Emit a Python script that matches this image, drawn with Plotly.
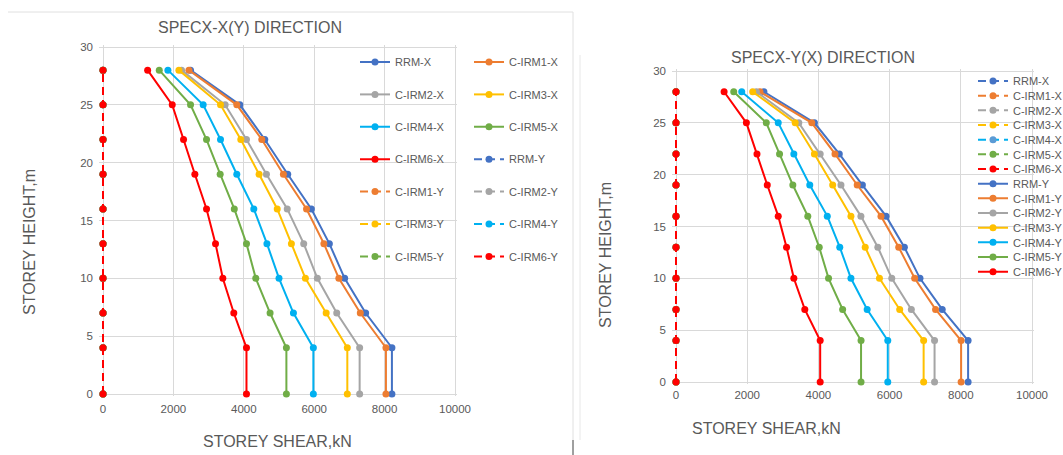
import plotly.graph_objects as go

# ---------------- data ----------------
heights = [0, 4, 7, 10, 13, 16, 19, 22, 25, 28]

models = ["RRM", "C-IRM1", "C-IRM2", "C-IRM3", "C-IRM4", "C-IRM5", "C-IRM6"]
colors = ["#4472C4", "#ED7D31", "#A5A5A5", "#FFC000", "#00B0F0", "#70AD47", "#FF0000"]

# Left chart: SPECX-X(Y) direction, X-direction shear (kN), bottom to top
left_rrm_x = [8208, 8208, 7461, 6865, 6430, 5920, 5248, 4596, 3887, 2487]
left_cirm1_x = [8038, 8038, 7310, 6700, 6275, 5782, 5125, 4511, 3801, 2440]
left_cirm2_x = [7291, 7291, 6640, 6090, 5702, 5234, 4643, 4076, 3470, 2232]
left_cirm3_x = [6941, 6941, 6340, 5750, 5352, 4950, 4435, 3915, 3338, 2156]
left_cirm4_x = [5976, 5976, 5410, 5000, 4657, 4284, 3801, 3338, 2846, 1844]
left_cirm5_x = [5210, 5210, 4747, 4340, 4076, 3730, 3329, 2941, 2487, 1598]
left_cirm6_x = [4076, 4076, 3716, 3404, 3196, 2941, 2610, 2288, 1967, 1268]
# Left chart Y-direction shear (all zero)
left_y_zero = [0, 0, 0, 0, 0, 0, 0, 0, 0, 0]

# Right chart: SPECX-Y(X) direction, Y-direction shear (kN)
right_rrm_y = [8205, 8205, 7478, 6853, 6415, 5900, 5236, 4587, 3888, 2470]
right_cirm1_y = [8009, 8009, 7291, 6704, 6256, 5758, 5090, 4466, 3814, 2358]
right_cirm2_y = [7263, 7263, 6611, 6061, 5669, 5194, 4634, 4050, 3450, 2257]
right_cirm3_y = [6956, 6956, 6284, 5715, 5315, 4914, 4401, 3888, 3348, 2154]
right_cirm4_y = [5949, 5949, 5370, 4914, 4600, 4250, 3758, 3310, 2872, 1846]
right_cirm5_y = [5198, 5198, 4681, 4285, 4023, 3702, 3282, 2909, 2536, 1622]
right_cirm6_y = [4050, 4050, 3618, 3310, 3105, 2872, 2564, 2275, 1977, 1351]
# Right chart X-direction shear (all zero)
right_x_zero = [0, 0, 0, 0, 0, 0, 0, 0, 0, 0]

left_x_series = [left_rrm_x, left_cirm1_x, left_cirm2_x, left_cirm3_x,
                 left_cirm4_x, left_cirm5_x, left_cirm6_x]
right_y_series = [right_rrm_y, right_cirm1_y, right_cirm2_y, right_cirm3_y,
                  right_cirm4_y, right_cirm5_y, right_cirm6_y]

x_ticks = [0, 2000, 4000, 6000, 8000, 10000]
x_tick_labels = ["0", "2000", "4000", "6000", "8000", "10000"]
y_ticks = [0, 5, 10, 15, 20, 25, 30]

# ---------------- layout constants ----------------
W, H = 1063, 455
FONT = "Liberation Sans"
TXT = "#595959"
GRID = "#D9D9D9"


def px_x(p):
    return p / W


def px_y(p):
    return 1 - p / H


fig = go.Figure()
legend_layouts = {}
legend_counter = [0]


def add_trace(x, y, name, color, dash, xa, ya, mx, my, marker_color=None):
    legend_counter[0] += 1
    n = legend_counter[0]
    lid = "legend" if n == 1 else f"legend{n}"
    fig.add_trace(go.Scatter(
        x=x, y=y, name=name, mode="lines+markers",
        line=dict(color=color, width=2, dash=dash),
        marker=dict(color=marker_color or color, size=7),
        xaxis=xa, yaxis=ya, legend=lid, showlegend=True, cliponaxis=False,
    ))
    legend_layouts[lid] = dict(
        x=px_x(mx - 20), y=px_y(my - 14.5), xanchor="left", yanchor="top",
        bgcolor="rgba(0,0,0,0)", borderwidth=0,
        font=dict(family=FONT, size=11, color=TXT),
    )


DASH = "8px,5px"

# Left chart traces: X solid, then Y dashed
left_rows = [62 + i * 32.4 for i in range(7)]
left_cols = [375, 489]
for i, m in enumerate(models):
    k = i
    add_trace(left_x_series[i], heights, f"{m}-X", colors[i], "solid", "x", "y",
              left_cols[k % 2], left_rows[k // 2])
for i, m in enumerate(models):
    k = 7 + i
    add_trace(left_y_zero, heights, f"{m}-Y", colors[i], DASH, "x", "y",
              left_cols[k % 2], left_rows[k // 2])

# Right chart traces: X dashed (zero), then Y solid
right_rows = [81 + i * 14.67 for i in range(14)]
for i, m in enumerate(models):
    add_trace(right_x_zero, heights, f"{m}-X", colors[i], DASH, "x2", "y2",
              993, right_rows[i], marker_color="#5B9BD5" if m == "C-IRM4" else None)
for i, m in enumerate(models):
    add_trace(right_y_series[i], heights, f"{m}-Y", colors[i], "solid", "x2", "y2",
              993, right_rows[7 + i])

axis_common = dict(
    showgrid=True, gridcolor=GRID, gridwidth=1,
    zeroline=False, showline=False,
    tickfont=dict(family=FONT, size=11.5, color=TXT), ticks="",
)


def frame(v0, v1, p0, p1, pad_lo, pad_hi, vertical=False):
    """Domain/range so value v0 sits at pixel p0 and v1 at p1, with small pads
    so that boundary grid lines and zero-value lines are fully drawn."""
    k = (v1 - v0) / abs(p1 - p0)
    rng = [v0 - pad_lo * k, v1 + pad_hi * k]
    if vertical:  # p0 is bottom pixel (larger), p1 top pixel
        dom = [px_y(p0 + pad_lo), px_y(p1 - pad_hi)]
    else:
        dom = [px_x(p0 - pad_lo), px_x(p1 + pad_hi)]
    return dom, rng


lx_dom, lx_rng = frame(0, 10000, 103, 455, 4, 2)
ly_dom, ly_rng = frame(0, 30, 394, 47, 2, 2, vertical=True)
rx_dom, rx_rng = frame(0, 10000, 676, 1032, 4, 2)
ry_dom, ry_rng = frame(0, 30, 382, 71, 2, 2, vertical=True)

fig.update_layout(
    width=W, height=H,
    margin=dict(l=0, r=0, t=0, b=0, autoexpand=False),
    paper_bgcolor="white", plot_bgcolor="white",
    showlegend=True,
    xaxis=dict(domain=lx_dom, range=lx_rng, tickvals=x_ticks,
               ticktext=x_tick_labels, anchor="y", ticklabelstandoff=4, **axis_common),
    yaxis=dict(domain=ly_dom, range=ly_rng, tickvals=y_ticks,
               anchor="x", ticklabelstandoff=5, **axis_common),
    xaxis2=dict(domain=rx_dom, range=rx_rng, tickvals=x_ticks,
                ticktext=x_tick_labels, anchor="y2", ticklabelstandoff=2, **axis_common),
    yaxis2=dict(domain=ry_dom, range=ry_rng, tickvals=y_ticks,
                anchor="x2", ticklabelstandoff=5, **axis_common),
    **legend_layouts,
)

ann_font_title = dict(family=FONT, size=16, color=TXT)
annotations = [
    dict(text="SPECX-X(Y) DIRECTION", x=px_x(250), y=px_y(27)),
    dict(text="SPECX-Y(X) DIRECTION", x=px_x(823), y=px_y(57)),
    dict(text="STOREY SHEAR,kN", x=px_x(277), y=px_y(441)),
    dict(text="STOREY SHEAR,kN", x=px_x(766), y=px_y(428)),
    dict(text="STOREY HEIGHT,m", x=px_x(29), y=px_y(242), textangle=-90),
    dict(text="STOREY HEIGHT,m", x=px_x(605), y=px_y(255), textangle=-90),
]
for a in annotations:
    fig.add_annotation(xref="paper", yref="paper", showarrow=False,
                       xanchor="center", yanchor="middle",
                       font=ann_font_title, **a)

# chart borders (screenshot frame lines)
shapes = [
    dict(x0=8, x1=573, y0=12, y1=12, color="#E0E0E0"),
    dict(x0=573, x1=573, y0=12, y1=440, color="#E0E0E0"),
    dict(x0=580, x1=580, y0=55, y1=440, color="#E8E8E8"),
    dict(x0=573, x1=573, y0=440, y1=455, color="#404040"),
]
for s in shapes:
    fig.add_shape(type="line", xref="paper", yref="paper",
                  x0=px_x(s["x0"]), x1=px_x(s["x1"]),
                  y0=px_y(s["y0"]), y1=px_y(s["y1"]),
                  line=dict(color=s["color"], width=1))

fig.write_html("out.html")
